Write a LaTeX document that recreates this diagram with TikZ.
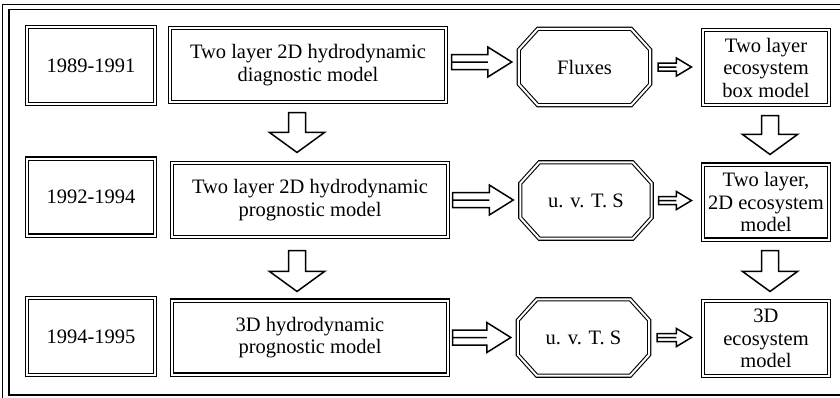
\documentclass[tikz,border=0pt]{standalone}
\usepackage{fontspec}
\setmainfont{Liberation Serif}
\usetikzlibrary{calc}
\tikzset{
  dbl/.style={draw=black, double=white, double distance=2pt, line width=1.1pt},
  txt/.style={align=center, font=\fontsize{20.5}{22.5}\selectfont, inner sep=2pt},
  box/.style={dbl, rectangle, txt},
  yearbox/.style={box, minimum width=128pt, minimum height=77pt},
  modelbox/.style={box, minimum width=276pt, minimum height=74pt},
  ecobox/.style={box, minimum width=126pt, minimum height=75pt},
  octnode/.style={rectangle, txt, minimum width=131pt, minimum height=76pt},
  hollow/.style={draw=black, line width=1.5pt, line join=miter},
  harrow/.style n args={3}{hollow, to path={let \p1=(\tikztostart), \p2=(\tikztotarget) in
     (\x1,\y1+#1) -- (\x2-#3,\y1+#1) -- (\x2-#3,\y1+#2) -- (\x2,\y1) -- (\x2-#3,\y1-#2) -- (\x2-#3,\y1-#1) -- (\x1,\y1-#1) -- cycle
     (\x1,\y1) -- (\x2-#3,\y1)}},
  varrow/.style n args={3}{hollow, to path={let \p1=(\tikztostart), \p2=(\tikztotarget) in
     (\x1-#1,\y1) -- (\x1-#1,\y2+#3) -- (\x1-#2,\y2+#3) -- (\x1,\y2) -- (\x1+#2,\y2+#3) -- (\x1+#1,\y2+#3) -- (\x1+#1,\y1) -- cycle}},
  bigarrow/.style={harrow={7.5pt}{15pt}{24pt}},
  smallarrow/.style={harrow={4pt}{9pt}{15pt}},
  downarrow/.style={varrow={8.5pt}{27.5pt}{20pt}},
}
\newcommand\octdraw[1]{\draw[dbl] ($(#1.north west)+(19,0)$) -- ($(#1.north east)+(-19,0)$) -- ($(#1.north east)+(0,21)$) -- ($(#1.south east)+(0,-21)$) -- ($(#1.south east)+(-19,0)$) -- ($(#1.south west)+(19,0)$) -- ($(#1.south west)+(0,-21)$) -- ($(#1.north west)+(0,21)$) -- cycle;}
\begin{document}
\begin{tikzpicture}[x=1pt,y=-1pt]
\useasboundingbox (0,0) rectangle (840,397);
\clip (0,0) rectangle (840,397);
% outer frame
\draw[line width=0.6pt] (2,4) rectangle (860,410);
\draw[line width=1.3pt] (9,9.5) rectangle (860,395);
% year boxes
\node[yearbox] (y1) at (91,65.5) {1989-1991};
\node[yearbox] (y2) at (91,197) {1992-1994};
\node[yearbox] (y3) at (91,336.5) {1994-1995};
% model boxes
\node[modelbox] (m1) at (308,65) {Two layer 2D hydrodynamic\\diagnostic model};
\node[modelbox] (m2) at (310,200) {Two layer 2D hydrodynamic\\prognostic model};
\node[modelbox] (m3) at (310,337.5) {3D hydrodynamic\\prognostic model};
% octagons
\node[octnode] (o1) at (584.5,67) {Fluxes};
\node[octnode] (o2) at (586,200.5) {u. v. T. S};
\node[octnode] (o3) at (583.5,337.5) {u. v. T. S};
\octdraw{o1}
\octdraw{o2}
\octdraw{o3}
% ecosystem boxes
\node[ecobox] (e1) at (766,67.5) {Two layer\\ecosystem\\box model};
\node[ecobox] (e2) at (766,202) {Two layer,\\2D ecosystem\\model};
\node[ecobox] (e3) at (766,338.5) {3D\\ecosystem\\model};
% horizontal arrows
\draw[bigarrow] ($(m1.east)+(5,-3)$) to ($(o1.west)+(-7,-3)$);
\draw[bigarrow] ($(m2.east)+(4,0)$) to ($(o2.west)+(-7,0)$);
\draw[bigarrow] ($(m3.east)+(4,0)$) to ($(o3.west)+(-7,0)$);
\draw[smallarrow] ($(o1.east)+(8,0)$) to ($(e1.west)+(-11,0)$);
\draw[smallarrow] ($(o2.east)+(7,0)$) to ($(e2.west)+(-11,0)$);
\draw[smallarrow] ($(o3.east)+(8,0)$) to ($(e3.west)+(-11,0)$);
% vertical arrows
\draw[downarrow] ($(m1.south)+(-11,10)$) to ($(m2.north)+(-13,-10)$);
\draw[downarrow] ($(m2.south)+(-13,13)$) to ($(m3.north)+(-13,-8.5)$);
\draw[downarrow] ($(e1.south)+(4,10)$) to ($(e2.north)+(4,-9.5)$);
\draw[downarrow] ($(e2.south)+(4,10.5)$) to ($(e3.north)+(4,-9)$);
\end{tikzpicture}
\end{document}
